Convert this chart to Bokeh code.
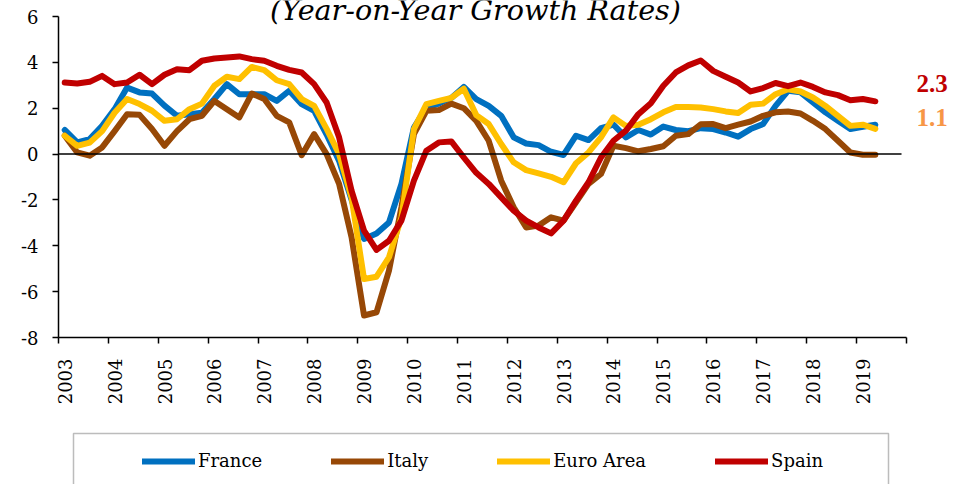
from math import pi
from bokeh.plotting import figure
from bokeh.models import (Range1d, FixedTicker, CustomJSTickFormatter, Legend, LegendItem,
                          Label, BoxAnnotation, ColumnDataSource)
from bokeh.embed import file_html
from bokeh.resources import INLINE

# ---------------- data (quarterly, 2003Q1 .. 2019Q2) ----------------
start_year = 2003
years = list(range(2003, 2020))
tick_labels = [str(y) for y in years]
y_ticks = [-8, -6, -4, -2, 0, 2, 4, 6]

france = [1.05, 0.51, 0.65, 1.23, 1.96, 2.90, 2.69, 2.64, 2.11, 1.67, 1.74, 1.80,
          2.40, 3.05, 2.61, 2.61, 2.61, 2.32, 2.76, 2.18, 1.89, 0.85, -0.30, -2.00,
          -3.70, -3.46, -2.98, -1.30, 1.16, 2.03, 2.20, 2.45, 2.93, 2.40, 2.10, 1.67,
          0.73, 0.46, 0.39, 0.10, -0.04, 0.80, 0.61, 1.13, 1.28, 0.73, 1.05, 0.85,
          1.20, 1.05, 1.00, 1.13, 1.09, 0.94, 0.76, 1.09, 1.31, 2.10, 2.76, 2.69,
          2.25, 1.82, 1.45, 1.09, 1.19, 1.28]

italy = [0.80, 0.07, -0.07, 0.29, 1.00, 1.74, 1.71, 1.09, 0.36, 1.00, 1.52, 1.67,
         2.32, 1.96, 1.60, 2.64, 2.40, 1.67, 1.38, -0.05, 0.87, 0.00, -1.30, -3.63,
         -7.04, -6.90, -5.08, -2.32, 0.87, 1.89, 1.92, 2.20, 2.00, 1.45, 0.58, -1.16,
         -2.32, -3.20, -3.12, -2.76, -2.90, -2.10, -1.30, -0.87, 0.36, 0.26, 0.12, 0.22,
         0.34, 0.80, 0.87, 1.30, 1.31, 1.13, 1.28, 1.42, 1.67, 1.82, 1.86, 1.77,
         1.45, 1.09, 0.58, 0.07, -0.03, -0.03]

euro_area = [0.80, 0.36, 0.50, 1.00, 1.80, 2.40, 2.18, 1.89, 1.45, 1.52, 1.96, 2.20,
             2.98, 3.37, 3.27, 3.80, 3.66, 3.22, 3.05, 2.40, 2.10, 1.10, 0.00, -1.90,
             -5.45, -5.35, -4.50, -2.76, 1.09, 2.18, 2.32, 2.45, 2.85, 1.70, 1.31, 0.44,
             -0.36, -0.70, -0.84, -0.99, -1.23, -0.40, 0.07, 0.73, 1.60, 1.23, 1.28, 1.52,
             1.82, 2.05, 2.05, 2.03, 1.96, 1.86, 1.79, 2.15, 2.20, 2.61, 2.83, 2.73,
             2.47, 2.10, 1.67, 1.23, 1.28, 1.10]

spain = [3.12, 3.08, 3.15, 3.41, 3.05, 3.12, 3.46, 3.05, 3.46, 3.70, 3.66, 4.07,
         4.17, 4.21, 4.26, 4.14, 4.07, 3.85, 3.67, 3.56, 3.05, 2.25, 0.73, -1.60,
         -3.34, -4.18, -3.78, -2.90, -1.16, 0.15, 0.51, 0.55, -0.15, -0.82, -1.30, -1.89,
         -2.47, -2.90, -3.20, -3.46, -2.90, -2.03, -1.23, -0.15, 0.58, 1.02, 1.74, 2.22,
         2.98, 3.56, 3.87, 4.08, 3.63, 3.37, 3.12, 2.73, 2.88, 3.10, 2.96, 3.12,
         2.93, 2.69, 2.57, 2.35, 2.40, 2.30]

series_names = ["France", "Italy", "Euro Area", "Spain"]
series_values = [france, italy, euro_area, spain]
series_colors = ["#0070C0", "#974806", "#FFC000", "#C00000"]

# quarter centres on a continuous year axis
xq = [start_year + (i + 0.5) / 4 for i in range(len(france))]

SERIF = "DejaVu Serif"
W, H = 971, 484

# plot area of the original chart in pixels: x 58..906 (2003..2020), y 16..337 (6..-8)
x0_px, x1_px, ytop_px, ybot_px = 58, 906, 16, 337
x_axis_end = years[-1] + 1
ux = (x_axis_end - start_year) / (x1_px - x0_px)
uy = (y_ticks[-1] - y_ticks[0]) / (ybot_px - ytop_px)
x_start = start_year - x0_px * ux
y_top = y_ticks[-1] + ytop_px * uy

p = figure(width=W, height=H, output_backend="svg", toolbar_location=None,
           x_range=Range1d(x_start, x_start + W * ux),
           y_range=Range1d(y_top - H * uy, y_top),
           min_border=0, min_border_left=0, min_border_right=0,
           min_border_top=0, min_border_bottom=0)
p.outline_line_color = None
p.xgrid.visible = False
p.ygrid.visible = False
p.background_fill_color = "white"
p.border_fill_color = "white"

# y axis
p.yaxis.fixed_location = start_year
p.yaxis.bounds = (y_ticks[0], y_ticks[-1])
p.yaxis.ticker = FixedTicker(ticks=y_ticks)
p.yaxis.formatter = CustomJSTickFormatter(code="return String(Math.round(tick));")
p.yaxis.axis_line_color = "black"
p.yaxis.axis_line_width = 1.5
p.yaxis.major_tick_line_color = "black"
p.yaxis.major_tick_line_width = 1.5
p.yaxis.major_tick_out = 6
p.yaxis.major_tick_in = 0
p.yaxis.minor_tick_line_color = None
p.yaxis.major_label_standoff = 14
p.yaxis.major_label_text_font = SERIF
p.yaxis.major_label_text_font_size = "18px"
p.yaxis.major_label_text_color = "black"

# x axis: labels at first quarter of each year, ticks at year boundaries
p.xaxis.fixed_location = y_ticks[0]
p.xaxis.bounds = (start_year, x_axis_end)
p.xaxis.ticker = FixedTicker(ticks=[y + 0.125 for y in years],
                             minor_ticks=years + [x_axis_end])
p.xaxis.formatter = CustomJSTickFormatter(
    args=dict(labels=tick_labels, y0=start_year),
    code="const k = Math.floor(tick) - y0; return (k >= 0 && k < labels.length) ? labels[k] : '';")
p.xaxis.axis_line_color = "black"
p.xaxis.axis_line_width = 1.5
p.xaxis.major_tick_out = 0
p.xaxis.major_tick_in = 0
p.xaxis.minor_tick_out = 6
p.xaxis.minor_tick_in = 0
p.xaxis.minor_tick_line_color = "black"
p.xaxis.minor_tick_line_width = 1.5
p.xaxis.major_label_orientation = pi / 2
p.xaxis.major_label_standoff = 15
p.xaxis.major_label_text_font = SERIF
p.xaxis.major_label_text_font_size = "18px"
p.xaxis.major_label_text_color = "black"

items = []
for name, vals, col in zip(series_names, series_values, series_colors):
    src = ColumnDataSource(dict(x=xq, y=vals))
    r = p.line("x", "y", source=src, line_color=col, line_width=6,
               line_join="round", line_cap="round")
    items.append(LegendItem(label=name, renderers=[r]))

# zero line across the axis span, on top of the series
p.line([start_year, x_axis_end - 0.1], [0, 0], line_color="black", line_width=1.5)

# end-of-series value labels
p.add_layout(Label(x=916, x_units="screen", y=spain[-1] + 0.76, text=f"{spain[-1]:.1f}",
                   text_font="Liberation Serif", text_font_style="bold",
                   text_font_size="25px", text_color="#C00000",
                   text_baseline="middle", text_align="left"))
p.add_layout(Label(x=916, x_units="screen", y=euro_area[-1] + 0.48, text=f"{euro_area[-1]:.1f}",
                   text_font="Liberation Serif", text_font_style="bold",
                   text_font_size="25px", text_color="#F79646",
                   text_baseline="middle", text_align="left"))

# title (partially cut at the top, as in the original)
p.add_layout(Label(x=475, y=H - 9, x_units="screen", y_units="screen",
                   text="(Year-on-Year Growth Rates)", text_font=SERIF,
                   text_font_style="italic", text_font_size="28.6px", text_color="black",
                   text_align="center", text_baseline="alphabetic"))

# legend frame (runs off the bottom edge, as in the original)
p.add_layout(BoxAnnotation(left=73, right=888, top=H - 433, bottom=-20,
                           left_units="screen", right_units="screen",
                           top_units="screen", bottom_units="screen",
                           fill_alpha=0, line_color="#222222", line_width=1.5))

legend = Legend(items=items, orientation="horizontal", location=(132, 3),
                border_line_alpha=0, background_fill_alpha=0, padding=10, spacing=69,
                glyph_width=53, glyph_height=20, label_standoff=3, margin=0,
                label_text_font=SERIF, label_text_font_size="18px",
                label_text_color="black", label_text_baseline="middle")
p.add_layout(legend)

open("out.html", "w").write(file_html(p, INLINE))
